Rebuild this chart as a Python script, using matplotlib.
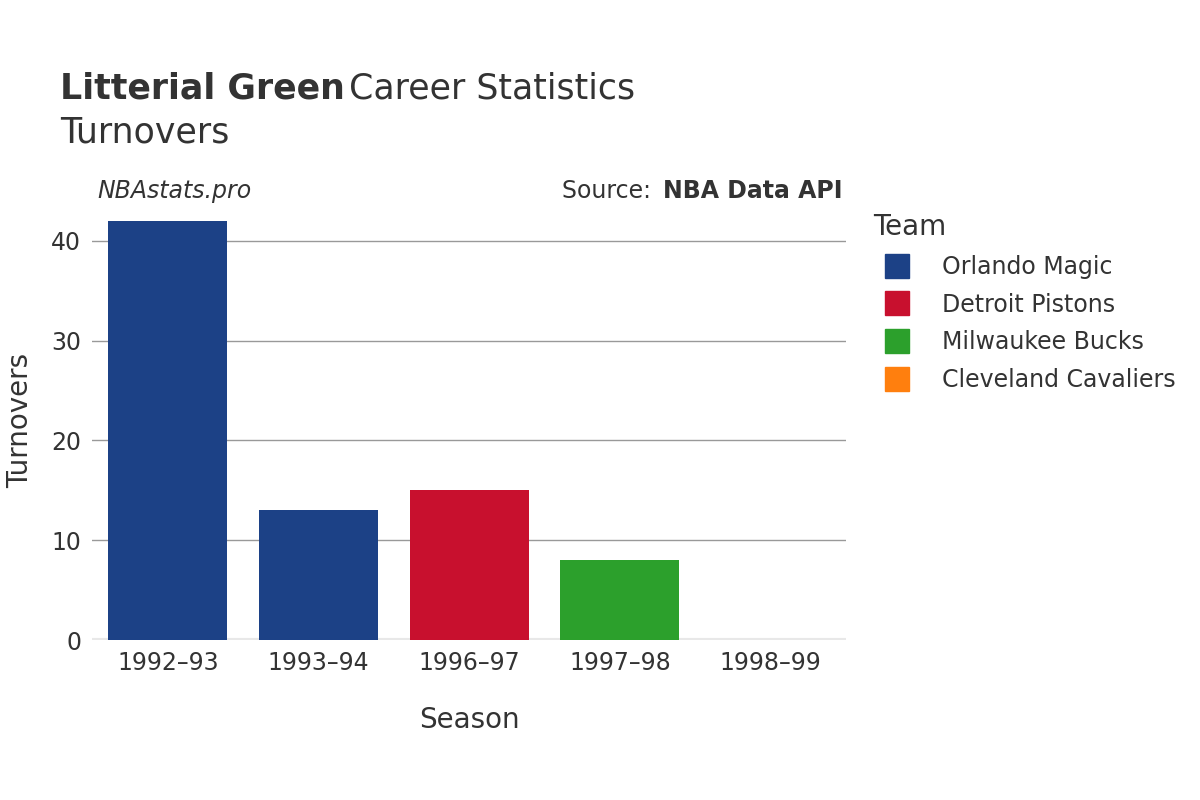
import matplotlib.pyplot as plt
from matplotlib.lines import Line2D

seasons = ["1992\u201393", "1993\u201394", "1996\u201397", "1997\u201398", "1998\u201399"]
turnovers = [42, 13, 15, 8, 0]
bar_teams = ["Orlando Magic", "Orlando Magic", "Detroit Pistons", "Milwaukee Bucks", "Cleveland Cavaliers"]
teams = ["Orlando Magic", "Detroit Pistons", "Milwaukee Bucks", "Cleveland Cavaliers"]
team_colors = {"Orlando Magic": "#1c4186", "Detroit Pistons": "#c8102e",
               "Milwaukee Bucks": "#2ca02c", "Cleveland Cavaliers": "#ff7f0e"}

plt.rcParams["font.family"] = "DejaVu Sans"
fig = plt.figure(figsize=(12, 8), dpi=100)
ax = fig.add_axes([0.077, 0.2, 0.628, 0.55])

x = range(len(seasons))
ax.bar(x, turnovers, width=0.79, color=[team_colors[t] for t in bar_teams], zorder=3)
ax.set_xlim(-0.5, len(seasons) - 0.5)
ax.set_ylim(0, 44.1)
ax.set_yticks([0, 10, 20, 30, 40])
ax.set_xticks(list(x))
ax.set_xticklabels(seasons)
ax.grid(axis="y", color="#999999", linewidth=1, zorder=0)
ax.axhline(0, color="#e8e8e8", linewidth=3, zorder=2)
for s in ax.spines.values():
    s.set_visible(False)
ax.tick_params(length=0, labelsize=17, colors="#333333", pad=8)
ax.set_xlabel("Season", fontsize=20, color="#333333", labelpad=22)
ax.set_ylabel("Turnovers", fontsize=20, color="#333333", labelpad=12)

fig.text(0.05, 0.877, "Litterial Green", fontsize=25, fontweight="bold", color="#333333")
fig.text(0.05 + 0.241, 0.877, "Career Statistics", fontsize=25, color="#333333")
fig.text(0.05, 0.822, "Turnovers", fontsize=25, color="#333333")
fig.text(0.081, 0.752, "NBAstats.pro", fontsize=17, style="italic", color="#333333")
fig.text(0.468, 0.752, "Source: ", fontsize=17, color="#333333", ha="left")
fig.text(0.702, 0.752, "NBA Data API", fontsize=17, fontweight="bold", color="#333333", ha="right")

handles = [Line2D([], [], marker="s", linestyle="", markersize=17, color=team_colors[tm]) for tm in teams]
leg = fig.legend(handles, teams, loc="upper left", bbox_to_anchor=(0.71, 0.76),
                 frameon=False, fontsize=17, title="Team", title_fontsize=20,
                 labelspacing=0.58, handletextpad=0.9, alignment="left")
for txt in leg.get_texts():
    txt.set_color("#333333")
leg.get_title().set_color("#333333")

fig.savefig("out.png")
